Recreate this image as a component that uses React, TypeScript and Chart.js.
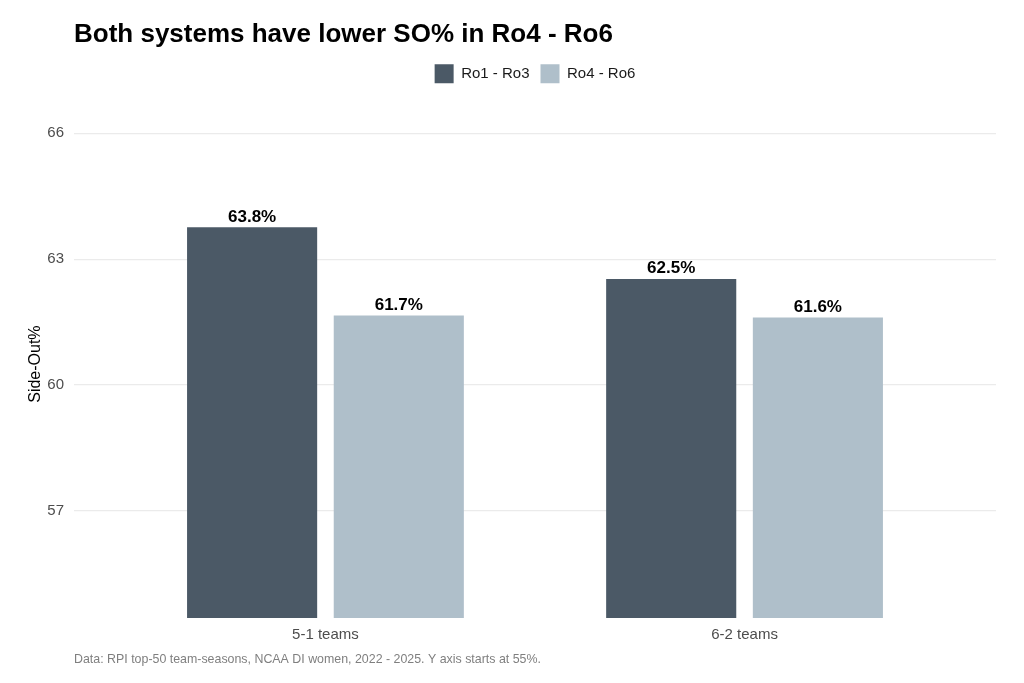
import { useEffect, useRef } from "react";
import Chart from "chart.js/auto";

const categories = ["5-1 teams", "6-2 teams"];
const seriesNames = ["Ro1 - Ro3", "Ro4 - Ro6"];
const ro1to3 = [63.76, 62.53];
const ro4to6 = [61.66, 61.61];
const yTicks = [57, 60, 63, 66];
const seriesColors = ["#4B5966", "#AFBFCA"];

Chart.defaults.font.family = "'Liberation Sans', Arial, sans-serif";

// push the plot panel down a bit below the legend
const legendGap = {
  id: "legendGap",
  beforeInit(chart: any) {
    const originalFit = chart.legend.fit;
    chart.legend.fit = function fit() {
      originalFit.bind(chart.legend)();
      this.height += 17;
    };
  },
};

const barLabels = {
  id: "barLabels",
  afterDatasetsDraw(chart: any) {
    const ctx = chart.ctx;
    ctx.save();
    ctx.font = "bold 17px 'Liberation Sans', Arial, sans-serif";
    ctx.fillStyle = "#000000";
    ctx.textAlign = "center";
    ctx.textBaseline = "alphabetic";
    chart.data.datasets.forEach((dataset: any, i: number) => {
      const meta = chart.getDatasetMeta(i);
      meta.data.forEach((bar: any, j: number) => {
        const value = dataset.data[j].y as number;
        ctx.fillText(`${value.toFixed(1)}%`, bar.x, bar.y - 5.5);
      });
    });
    ctx.restore();
  },
};

export default function App() {
  const canvasRef = useRef<HTMLCanvasElement>(null);

  useEffect(() => {
    document.body.style.margin = "0";
    if (!canvasRef.current) return;

    const series = [ro1to3, ro4to6];

    const chart = new Chart(canvasRef.current, {
      type: "bar",
      data: {
        datasets: series.map((values, i) => ({
          label: seriesNames[i],
          data: values.map((y, j) => ({ x: j + 1, y })),
          backgroundColor: seriesColors[i],
          borderWidth: 0,
          categoryPercentage: 0.7,
          barPercentage: 0.887,
        })),
      },
      options: {
        animation: false,
        responsive: true,
        maintainAspectRatio: false,
        layout: {
          padding: { left: 0, right: 28, top: 0, bottom: 0 },
        },
        plugins: {
          title: {
            display: true,
            text: "Both systems have lower SO% in Ro4 - Ro6",
            align: "start",
            fullSize: false,
            color: "#000000",
            font: { size: 26, weight: "bold" },
            padding: { top: 19, bottom: 3 },
          },
          subtitle: {
            display: true,
            position: "bottom",
            text: "Data: RPI top-50 team-seasons, NCAA DI women, 2022 - 2025. Y axis starts at 55%.",
            align: "start",
            fullSize: false,
            color: "#7F7F7F",
            font: { size: 12.4 },
            padding: { top: 4.5, bottom: 15.6 },
          },
          legend: {
            position: "top",
            fullSize: false,
            labels: {
              boxWidth: 19,
              boxHeight: 19,
              padding: 11,
              color: "#1A1A1A",
              font: { size: 15 },
            },
          },
          tooltip: { enabled: false },
        },
        scales: {
          x: {
            type: "linear",
            min: 0.4,
            max: 2.6,
            offset: false,
            grid: { display: false },
            border: { display: false },
            afterBuildTicks: (scale: any) => {
              scale.ticks = categories.map((_, i) => ({ value: i + 1 }));
            },
            afterFit: (scale: any) => {
              scale.height = 30;
            },
            ticks: {
              color: "#4D4D4D",
              font: { size: 15 },
              padding: 0,
              callback: (value: any) => categories[Number(value) - 1],
            },
          },
          y: {
            min: 54.45,
            max: 66.55,
            afterBuildTicks: (scale: any) => {
              scale.ticks = yTicks.map((value) => ({ value }));
            },
            afterFit: (scale: any) => {
              scale.width = 74;
            },
            grid: {
              color: "#EBEBEB",
              lineWidth: 1.2,
              drawTicks: false,
            },
            border: { display: false },
            ticks: {
              color: "#4D4D4D",
              font: { size: 15 },
              padding: 10,
            },
            title: {
              display: true,
              text: "Side-Out%",
              color: "#000000",
              font: { size: 16 },
              padding: { top: 26, bottom: 0 },
            },
          },
        },
      },
      plugins: [legendGap, barLabels],
    });

    return () => chart.destroy();
  }, []);

  return (
    <div style={{ width: 1024, height: 683, position: "relative", background: "#ffffff" }}>
      <canvas ref={canvasRef}></canvas>
    </div>
  );
}
